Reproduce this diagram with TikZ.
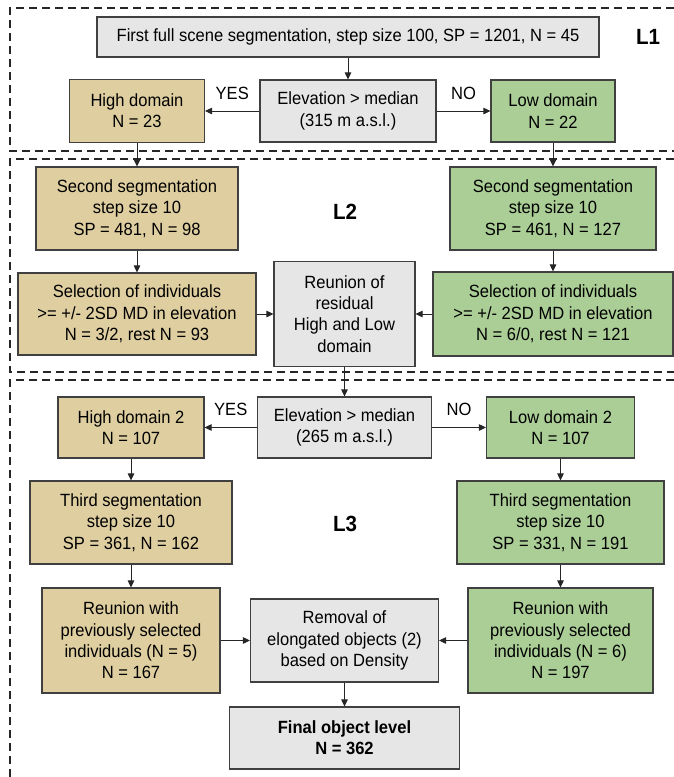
\documentclass[tikz,border=0pt]{standalone}
\usepackage{fontspec}
\setmainfont[FakeStretch=0.935]{Liberation Sans}
\usepackage{tikz}
\usetikzlibrary{arrows.meta}
\definecolor{highfill}{RGB}{222,206,160}
\definecolor{lowfill}{RGB}{170,206,150}
\definecolor{greyfill}{RGB}{230,230,230}
\tikzset{
  flowbox/.style={rectangle,draw=black!75,line width=1.1pt,align=center,inner sep=2pt,
    font=\fontsize{17.7}{21.3}\selectfont},
  greybox/.style={flowbox,fill=greyfill},
  highbox/.style={flowbox,fill=highfill},
  lowbox/.style={flowbox,fill=lowfill},
  levellabel/.style={font=\fontsize{22}{26}\selectfont\bfseries},
  framedash/.style={draw=black!85,line width=1.3pt,dash pattern=on 8pt off 5pt},
  flowarrow/.style={draw=black!85,line width=0.9pt,-{Triangle[length=7pt,width=6.5pt]}},
  yesno/.style={font=\fontsize{17.7}{21.3}\selectfont,above=8pt,midway}
}

\begin{document}
\begin{tikzpicture}[x=1pt,y=-1pt]
    \useasboundingbox (0,0) rectangle (674,777);
    % level frames
    \draw[framedash] (674,8) -| (10,151) -- (674,151);
    \draw[framedash] (674,159) -| (10,372) -- (674,372);
    \draw[framedash] (674,380) -| (10,777);
    \node[levellabel] (lone) at (648,37) {L1};
    \node[levellabel] (ltwo) at (345,212) {L2};
    \node[levellabel] (lthree) at (345,524) {L3};
    % L1
    \node[greybox,minimum width=502pt,minimum height=40pt] (first) at (348,37)
        {First full scene segmentation,\ step size 100, SP = 1201, N = 45};
    \node[greybox,minimum width=176pt,minimum height=62pt] (elevone) at (348,111)
        {Elevation > median\\(315 m a.s.l.)};
    \node[highbox,minimum width=135pt,minimum height=63pt] (highone) at (137,111)
        {High domain\\N = 23};
    \node[lowbox,minimum width=124pt,minimum height=62pt] (lowone) at (553,111)
        {Low domain\\N = 22};
    % L2
    \node[highbox,minimum width=202pt,minimum height=83pt] (segtwohigh) at (137,208.5)
        {Second segmentation\\step size 10\\SP = 481, N = 98};
    \node[lowbox,minimum width=206pt,minimum height=83pt] (segtwolow) at (553,208.5)
        {Second segmentation\\step size 10\\SP = 461, N = 127};
    \node[highbox,minimum width=238pt,minimum height=82pt] (selhigh) at (137,314)
        {Selection of individuals\\>= +/- 2SD MD in elevation\\N = 3/2, rest N = 93};
    \node[lowbox,minimum width=240pt,minimum height=84pt] (sellow) at (553,314)
        {Selection of individuals\\>= +/- 2SD MD in elevation\\N = 6/0, rest N = 121};
    \node[greybox,minimum width=141pt,minimum height=105pt] (reunion) at (344.5,314)
        {Reunion of\\residual\\High and Low\\domain};
    % L3
    \node[greybox,minimum width=174pt,minimum height=61pt] (elevtwo) at (344.5,427.5)
        {Elevation > median\\(265 m a.s.l.)};
    \node[highbox,minimum width=146pt,minimum height=61pt] (hightwo) at (131,427.5)
        {High domain 2\\N = 107};
    \node[lowbox,minimum width=148pt,minimum height=61pt] (lowtwo) at (560.5,427.5)
        {Low domain 2\\N = 107};
    \node[highbox,minimum width=202pt,minimum height=83pt] (segthreehigh) at (131,522.5)
        {Third segmentation\\step size 10\\SP = 361, N = 162};
    \node[lowbox,minimum width=207pt,minimum height=83pt] (segthreelow) at (560.5,522.5)
        {Third segmentation\\step size 10\\SP = 331, N = 191};
    \node[highbox,minimum width=178pt,minimum height=105pt] (reunhigh) at (131,640.5)
        {Reunion with\\previously selected\\individuals (N = 5)\\N = 167};
    \node[lowbox,minimum width=185pt,minimum height=105pt] (reunlow) at (560.5,640.5)
        {Reunion with\\previously selected\\individuals (N = 6)\\N = 197};
    \node[greybox,minimum width=188pt,minimum height=83pt] (removal) at (344.5,640.5)
        {Removal of\\elongated objects (2)\\based on Density};
    \node[greybox,minimum width=230pt,minimum height=62pt,font=\fontsize{17.7}{21.3}\selectfont\bfseries] (final) at (344.5,738)
        {Final object level\\N = 362};
    % connectors
    \draw[flowarrow] (first) -- (elevone);
    \draw[flowarrow] (elevone) -- node[yesno]{YES} (highone);
    \draw[flowarrow] (elevone) -- node[yesno]{NO} (lowone);
    \draw[flowarrow] (highone) -- (segtwohigh);
    \draw[flowarrow] (lowone) -- (segtwolow);
    \draw[flowarrow] (segtwohigh) -- (selhigh);
    \draw[flowarrow] (segtwolow) -- (sellow);
    \draw[flowarrow] (selhigh) -- (reunion);
    \draw[flowarrow] (sellow) -- (reunion);
    \draw[flowarrow] (reunion) -- (elevtwo);
    \draw[flowarrow] (elevtwo) -- node[yesno]{YES} (hightwo);
    \draw[flowarrow] (elevtwo) -- node[yesno]{NO} (lowtwo);
    \draw[flowarrow] (hightwo) -- (segthreehigh);
    \draw[flowarrow] (lowtwo) -- (segthreelow);
    \draw[flowarrow] (segthreehigh) -- (reunhigh);
    \draw[flowarrow] (segthreelow) -- (reunlow);
    \draw[flowarrow] (reunhigh) -- (removal);
    \draw[flowarrow] (reunlow) -- (removal);
    \draw[flowarrow] (removal) -- (final);
\end{tikzpicture}
\end{document}
